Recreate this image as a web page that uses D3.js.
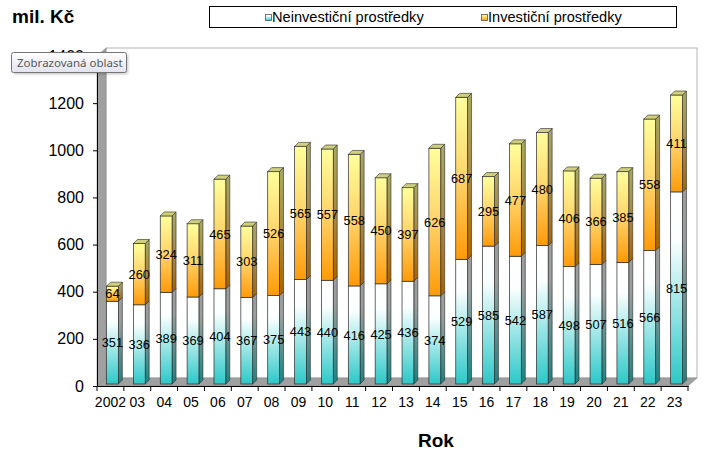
<!DOCTYPE html>
<html><head><meta charset="utf-8">
<script src="https://cdn.jsdelivr.net/npm/d3@7/dist/d3.min.js"></script>
<style>body{margin:0;background:#fff}svg{display:block}</style>
</head><body>
<script>
const years = ["2002","03","04","05","06","07","08","09","10","11","12","13","14","15","16","17","18","19","20","21","22","23"];
const neinvesticni = [351,336,389,369,404,367,375,443,440,416,425,436,374,529,585,542,587,498,507,516,566,815];
const investicni = [64,260,324,311,465,303,526,565,557,558,450,397,626,687,295,477,480,406,366,385,558,411];
const yTicks = [0,200,400,600,800,1000,1200,1400];
const seriesNames = ["Neinvestiční prostředky","Investiční prostředky"];
const yTitle = "mil. Kč";
const xTitle = "Rok";
const tooltipText = "Zobrazovaná oblast";

const W = 723, H = 457;
const svg = d3.select("body").append("svg").attr("width", W).attr("height", H)
  .style("font-family", "Arial, 'Liberation Sans', sans-serif");
const defs = svg.append("defs");

function grad(id, stops) {
  const g = defs.append("linearGradient").attr("id", id).attr("x1",0).attr("y1",0).attr("x2",0).attr("y2",1);
  stops.forEach(s => g.append("stop").attr("offset", s[0]).attr("stop-color", s[1]));
}
grad("gN", [[0,"#ffffff"],[0.25,"#fbffff"],[1,"#2cc8c8"]]);
grad("gNs", [[0,"#9c9c9c"],[0.25,"#9a9e9e"],[1,"#1d8282"]]);
grad("gI", [[0,"#ffff9c"],[0.5,"#ffd36a"],[1,"#ff9a08"]]);
grad("gIs", [[0,"#a8a862"],[0.5,"#a88a45"],[1,"#a86400"]]);
grad("gTip", [[0,"#ffffff"],[1,"#e2e3ee"]]);
const flt = defs.append("filter").attr("id","blur").attr("x","-20%").attr("y","-40%").attr("width","140%").attr("height","180%");
flt.append("feGaussianBlur").attr("stdDeviation",1.5);

const x0 = 97, x1 = 688, yBase = 386, yTop = 56;
const wdx = 9, wdy = -8;
const x = d3.scaleBand().domain(years).range([x0, x1]).padding(0);
const y = d3.scaleLinear().domain([0, 1400]).range([yBase, yTop]);

// walls
svg.append("rect").attr("x", x0 + wdx).attr("y", yTop + wdy).attr("width", (x1 + wdx) - (x0 + wdx)).attr("height", (yBase + wdy) - (yTop + wdy))
  .attr("fill", "#fff").attr("stroke", "#b4b4b4").attr("stroke-width", 1);
svg.append("path").attr("d", `M${x0},${yBase}L${x0},${yTop}L${x0+wdx},${yTop+wdy}L${x0+wdx},${yBase+wdy}Z`)
  .attr("fill", "#a0a0a0").attr("stroke", "#8a8a8a").attr("stroke-width", 0.6);
svg.append("path").attr("d", `M${x0},${yBase}L${x1},${yBase}L${x1+wdx},${yBase+wdy}L${x0+wdx},${yBase+wdy}Z`)
  .attr("fill", "#a0a0a0").attr("stroke", "#8a8a8a").attr("stroke-width", 0.6);

// bars
const step = x.step();
const bw = 11.8, bdx = 2, bdy = -2, dd = 4;
const barsG = svg.append("g");
const labelsG = svg.append("g");
years.forEach((yr, i) => {
  const cx = x(yr) + step / 2 + bdx;
  const bx = cx - bw / 2;
  const segs = [
    {lo: 0, hi: neinvesticni[i], v: neinvesticni[i], f: "url(#gN)", s: "url(#gNs)", t: "#c9cccc"},
    {lo: neinvesticni[i], hi: neinvesticni[i] + investicni[i], v: investicni[i], f: "url(#gI)", s: "url(#gIs)", t: "#cfcf7c"}
  ];
  segs.forEach((sg, k) => {
    const yb = y(sg.lo) + bdy, yt = y(sg.hi) + bdy;
    barsG.append("path").attr("d", `M${bx+bw},${yb}L${bx+bw+dd},${yb-dd}L${bx+bw+dd},${yt-dd}L${bx+bw},${yt}Z`)
      .attr("fill", sg.s).attr("stroke", "#2a2a2a").attr("stroke-width", 0.6);
    barsG.append("rect").attr("x", bx).attr("y", yt).attr("width", bw).attr("height", yb - yt)
      .attr("fill", sg.f).attr("stroke", "#2a2a2a").attr("stroke-width", 0.7);
    if (k === segs.length - 1) {
      barsG.append("path").attr("d", `M${bx},${yt}L${bx+dd},${yt-dd}L${bx+bw+dd},${yt-dd}L${bx+bw},${yt}Z`)
        .attr("fill", sg.t).attr("stroke", "#2a2a2a").attr("stroke-width", 0.6);
    }
    labelsG.append("text").attr("x", cx).attr("y", (yt + yb) / 2).attr("dy", "0.36em")
      .attr("text-anchor", "middle").attr("font-size", "12.8px").attr("fill", "#000").text(sg.v);
  });
});

// y axis
const yAxis = svg.append("g").attr("transform", `translate(${x0},0)`)
  .call(d3.axisLeft(y).tickValues(yTicks).tickFormat(d3.format("d")).tickSize(4).tickSizeOuter(0).tickPadding(9));
yAxis.selectAll("text").attr("font-size", "16px").attr("font-family", "Arial, 'Liberation Sans', sans-serif").attr("fill", "#000");
yAxis.selectAll("line,path").attr("stroke", "#000");

// x axis
const xAxis = svg.append("g").attr("transform", `translate(0,${yBase})`)
  .call(d3.axisBottom(x).tickSize(0).tickPadding(11));
xAxis.select(".domain").attr("stroke", "#000");
xAxis.selectAll("text").attr("font-size", "14px").attr("font-family", "Arial, 'Liberation Sans', sans-serif").attr("fill", "#000");
xAxis.selectAll(".bnd").data(d3.range(years.length + 1)).enter().append("line").attr("class", "bnd")
  .attr("x1", d => x0 + d * step).attr("x2", d => x0 + d * step).attr("y1", 0).attr("y2", 5).attr("stroke", "#000");

// titles
svg.append("text").attr("x", 12).attr("y", 23).attr("font-size", "19px").attr("font-weight", "bold").text(yTitle);
svg.append("text").attr("x", 436).attr("y", 447).attr("text-anchor", "middle").attr("font-size", "19px").attr("font-weight", "bold").text(xTitle);

// legend
svg.append("rect").attr("x", 209.5).attr("y", 6.5).attr("width", 467).attr("height", 21).attr("fill", "#fff").attr("stroke", "#000");
const legX = [265, 481];
const legFill = ["url(#gN)", "url(#gI)"];
seriesNames.forEach((n, i) => {
  svg.append("rect").attr("x", legX[i] + 0.5).attr("y", 14.5).attr("width", 6).attr("height", 6).attr("fill", legFill[i]).attr("stroke", "#555").attr("stroke-width", 0.8);
  svg.append("text").attr("x", legX[i] + 7).attr("y", 22).attr("font-size", "14.6px").text(n);
});

// tooltip
const tip = svg.append("g").attr("transform", "translate(11,52)");
tip.append("rect").attr("x", 2).attr("y", 2).attr("width", 115).attr("height", 20).attr("rx", 2).attr("fill", "#000").attr("opacity", 0.25).attr("filter", "url(#blur)");
tip.append("rect").attr("x", 0.5).attr("y", 0.5).attr("width", 115).attr("height", 20).attr("rx", 2).attr("fill", "url(#gTip)").attr("stroke", "#767676");
tip.append("text").attr("x", 6).attr("y", 15).attr("font-family", "'Noto Sans', 'Open Sans', sans-serif").attr("font-size", "11.5px").attr("fill", "#575757").text(tooltipText);
</script>
</body></html>
